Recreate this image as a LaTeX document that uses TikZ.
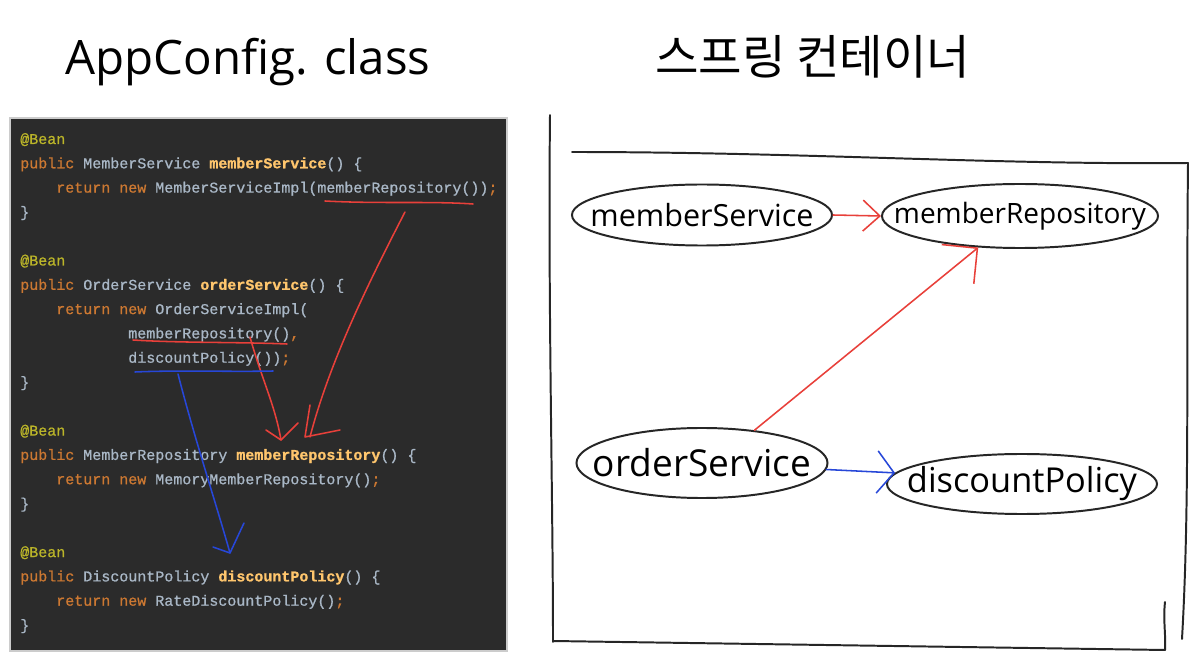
\documentclass[tikz,border=0pt]{standalone}
\usepackage{fontspec}
\setmonofont{Liberation Mono}[RawFeature={embolden=0.8}]
\newfontfamily\handfont{Open Sans}
\newfontfamily\krfont{Noto Sans CJK KR}
\usetikzlibrary{shapes.geometric,arrows.meta}
\definecolor{codebg}{HTML}{2B2B2B}
\definecolor{cgray}{HTML}{A9B7C6}
\definecolor{ckw}{HTML}{CC7832}
\definecolor{cann}{HTML}{BBB529}
\definecolor{cfn}{HTML}{FFC66D}
\definecolor{redpen}{HTML}{E8403A}
\definecolor{bluepen}{HTML}{2747D8}
\newcommand{\kw}[1]{\textcolor{ckw}{#1}}
\newcommand{\an}[1]{\textcolor{cann}{#1}}
\newcommand{\fn}[1]{\textcolor{cfn}{\bfseries #1}}
\tikzset{
  codeline/.style={anchor=base west, inner sep=0pt, text=cgray,
    font=\ttfamily\fontsize{10.67}{12}\selectfont},
  pen/.style={draw=black!85, line width=1.4pt, line cap=round, line join=round},
  redline/.style={draw=redpen, line width=1.1pt, line cap=round, line join=round},
  blueline/.style={draw=bluepen, line width=1.1pt, line cap=round, line join=round},
  bean/.style={ellipse, draw=black!85, line width=1.4pt, inner sep=0pt},
  beantext/.style={label={[font=\handfont, inner sep=0pt]center:#1}},
}
\begin{document}
\begin{tikzpicture}[x=0.025cm,y=-0.025cm]
\useasboundingbox (0,0) rectangle (1193,669);
\fill[white] (0,0) rectangle (1193,669);

% titles
\node[inner sep=0pt, anchor=base west] (t1) at (65,75)
  {\resizebox{9.125cm}{!}{\handfont AppConfig. class}};
\node[inner sep=0pt, anchor=base west] (t2) at (655,75)
  {\resizebox{7.875cm}{!}{\krfont 스프링 컨테이너}};

% code panel
\draw[fill=codebg, draw=black!20, line width=0.8pt] (10,118) rectangle (507,651);

\node[codeline] (l0)  at (20,144)   {\an{@Bean}};
\node[codeline] (l1)  at (20,168.3) {\kw{public} MemberService \fn{memberService}() \{};
\node[codeline] (l2)  at (56,192.6) {\kw{return new} MemberServiceImpl(memberRepository())\kw{;}};
\node[codeline] (l3)  at (20,216.9) {\}};
\node[codeline] (l5)  at (20,265.5) {\an{@Bean}};
\node[codeline] (l6)  at (20,289.8) {\kw{public} OrderService \fn{orderService}() \{};
\node[codeline] (l7)  at (56,314.1) {\kw{return new} OrderServiceImpl(};
\node[codeline] (l8)  at (128,338.4) {memberRepository()\kw{,}};
\node[codeline] (l9)  at (128,362.7) {discountPolicy())\kw{;}};
\node[codeline] (l10) at (20,387)   {\}};
\node[codeline] (l12) at (20,435.6) {\an{@Bean}};
\node[codeline] (l13) at (20,459.9) {\kw{public} MemberRepository \fn{memberRepository}() \{};
\node[codeline] (l14) at (56,484.2) {\kw{return new} MemoryMemberRepository()\kw{;}};
\node[codeline] (l15) at (20,508.5) {\}};
\node[codeline] (l17) at (20,557.1) {\an{@Bean}};
\node[codeline] (l18) at (20,581.4) {\kw{public} DiscountPolicy \fn{discountPolicy}() \{};
\node[codeline] (l19) at (56,605.7) {\kw{return new} RateDiscountPolicy()\kw{;}};
\node[codeline] (l20) at (20,630)   {\}};

% red annotations in code
\draw[redline] (325,201) .. controls (380,204) and (430,201) .. (473,204);
\draw[redline] (405,212) .. controls (370,280) and (330,360) .. (310,437);
\draw[redline] (310,405) -- (305,437) -- (340,430);
\draw[redline] (133,340) .. controls (180,343) and (240,342) .. (287,344);
\draw[redline] (250,337) .. controls (262,380) and (275,405) .. (281,440);
\draw[redline] (266,430) -- (281,440) -- (298,423);
% blue annotations in code
\draw[blueline] (135,372) .. controls (180,370) and (230,372) .. (273,371);
\draw[blueline] (178,374) .. controls (195,440) and (215,500) .. (230,553);
\draw[blueline] (213,547) -- (230,553) -- (244,523);

% container frame
\draw[pen] (550,115) .. controls (548,300) and (553,500) .. (553,642);
\draw[pen] (553,641) -- (1165,650);
\draw[pen] (1165,602) .. controls (1163,620) and (1166,635) .. (1165,650);
\draw[pen] (572,152) .. controls (800,152) and (1000,165) .. (1188,163);
\draw[pen] (1188,163) .. controls (1186,350) and (1190,500) .. (1182,639);

% beans
\node[bean, minimum width=6.5cm, minimum height=1.525cm,
  beantext={\resizebox{5.575cm}{!}{memberService}}] (ms) at (702,215) {};
\node[bean, minimum width=6.9cm, minimum height=1.6cm,
  beantext={\resizebox{6.3cm}{!}{memberRepository}}] (mr) at (1020,216) {};
\node[bean, minimum width=6.275cm, minimum height=1.75cm,
  beantext={\resizebox{5.45cm}{!}{orderService}}] (os) at (702,463) {};
\node[bean, minimum width=6.75cm, minimum height=1.5cm,
  beantext={\resizebox{5.75cm}{!}{discountPolicy}}] (dp) at (1022,484) {};

\draw[redline, -{Straight Barb[length=12pt,width=22pt]}] (ms.east) -- (mr.west);
\draw[redline, -{Straight Barb[length=18pt,width=36pt]}] (os.32) -- (mr.217);
\draw[blueline, -{Straight Barb[length=12pt,width=30pt]}] (os.-3) -- (dp.175);
\end{tikzpicture}
\end{document}
